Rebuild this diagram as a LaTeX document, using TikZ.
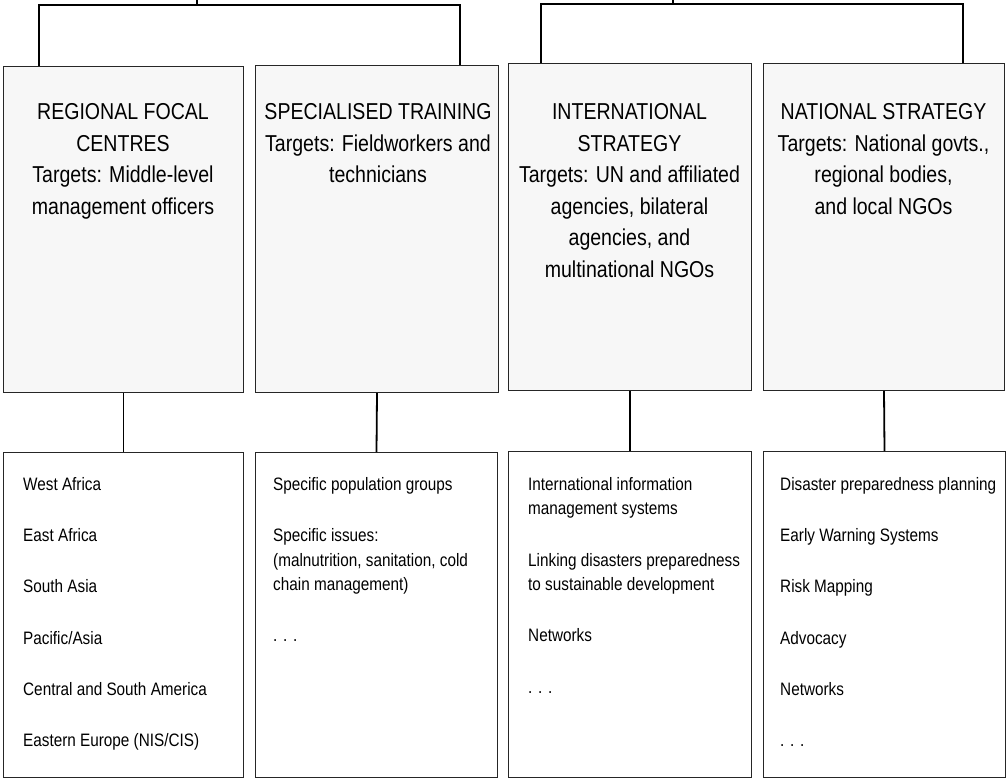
\documentclass[tikz,border=0pt]{standalone}
\usepackage{fontspec}
\setmainfont{Liberation Sans}[FakeStretch=0.85]
\begin{document}
\begin{tikzpicture}[x=1pt,y=-1pt,
  box/.style={draw=black!85, line width=1pt, inner sep=0pt, anchor=north west},
  topbox/.style={box, fill=black!3},
  conn/.style={line width=1.8pt, black},
  toptext/.style={anchor=north, align=center, inner sep=0pt, font=\fontsize{23}{31.5}\selectfont},
  bottext/.style={anchor=north west, align=left, inner sep=0pt, font=\fontsize{18}{24.5}\selectfont}]
\useasboundingbox[fill=white] (0,0) rectangle (1006,779);
% top boxes
\node[topbox, minimum width=240pt, minimum height=326pt] (t1) at (3,66) {};
\node[topbox, minimum width=243pt, minimum height=327pt] (t2) at (255,65) {};
\node[topbox, minimum width=243pt, minimum height=327pt] (t3) at (508,63) {};
\node[topbox, minimum width=241pt, minimum height=327pt] (t4) at (763,63) {};
% bottom boxes
\node[box, minimum width=240pt, minimum height=325pt] (b1) at (3,452) {};
\node[box, minimum width=242pt, minimum height=325pt] (b2) at (255,452) {};
\node[box, minimum width=243pt, minimum height=326pt] (b3) at (508,451) {};
\node[box, minimum width=242pt, minimum height=326pt] (b4) at (763,451) {};
% top texts
\node[toptext] (t1txt) at (123,103.5) {REGIONAL FOCAL\\CENTRES\\Targets: Middle-level\\management officers};
\node[toptext] (t2txt) at (378,103.5) {SPECIALISED TRAINING\\Targets: Fieldworkers and\\technicians};
\node[toptext] (t3txt) at (629.5,103.5) {INTERNATIONAL\\STRATEGY\\Targets: UN and affiliated\\agencies, bilateral\\agencies, and\\multinational NGOs};
\node[toptext] (t4txt) at (883.5,103.5) {NATIONAL STRATEGY\\Targets: National govts.,\\regional bodies,\\and local NGOs};
% bottom texts
\node[bottext] (b1txt) at (23,477) {West Africa\\[26.8pt]East Africa\\[26.8pt]South Asia\\[26.8pt]Pacific/Asia\\[26.8pt]Central and South America\\[26.8pt]Eastern Europe (NIS/CIS)};
\node[bottext] (b2txt) at (273,477) {Specific population groups\\[26.8pt]Specific issues:\\(malnutrition, sanitation, cold\\chain management)\\[26.8pt]. . .};
\node[bottext] (b3txt) at (528,477) {International information\\management systems\\[26.8pt]Linking disasters preparedness\\to sustainable development\\[26.8pt]Networks\\[26.8pt]. . .};
\node[bottext] (b4txt) at (780,477) {Disaster preparedness planning\\[26.8pt]Early Warning Systems\\[26.8pt]Risk Mapping\\[26.8pt]Advocacy\\[26.8pt]Networks\\[26.8pt]. . .};
% top connectors
\coordinate (rootL) at (197,0);
\coordinate (jL) at (197,5);
\coordinate (rootR) at (673,0);
\coordinate (jR) at (673,4);
\draw[conn] (rootL) -- (jL);
\draw[conn] ([xshift=36pt]t1.north west) |- (jL) -| ([xshift=-39pt]t2.north east);
\draw[conn] (rootR) -- (jR);
\draw[conn] ([xshift=33pt]t3.north west) |- (jR) -| ([xshift=-42pt]t4.north east);
% vertical connectors
\draw[conn] (t1.south) -- (b1.north);
\draw[conn] (t2.south) -- (b2.north);
\draw[conn] (t3.south) -- (b3.north);
\draw[conn] (t4.south) -- (b4.north);
\end{tikzpicture}
\end{document}
